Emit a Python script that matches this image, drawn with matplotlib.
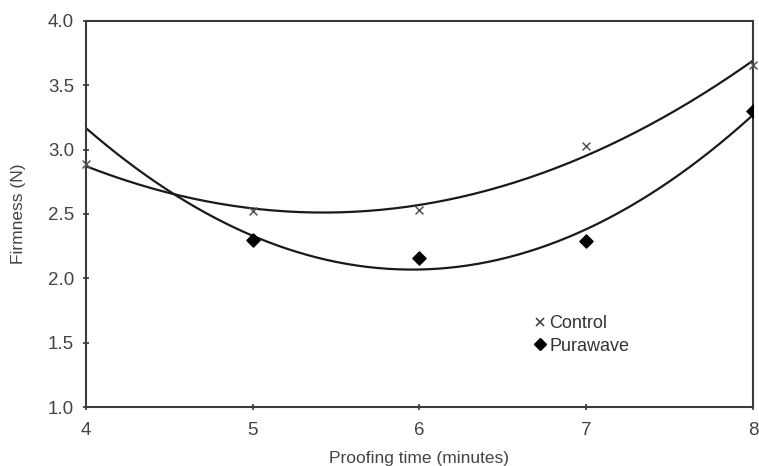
import matplotlib
matplotlib.use("Agg")
import numpy as np
from matplotlib import pyplot as plt
from matplotlib.lines import Line2D

# Firmness readings per proofing time
control_time = [4, 5, 6, 7, 8]
control_firmness = [2.89, 2.52, 2.53, 3.03, 3.66]
purawave_time = [5, 6, 7, 8]
purawave_firmness = [2.30, 2.16, 2.29, 3.30]

x_ticks = [4, 5, 6, 7, 8]
y_ticks = [1.0, 1.5, 2.0, 2.5, 3.0, 3.5, 4.0]

plt.rcParams["font.family"] = ["Liberation Sans", "DejaVu Sans"]

fig = plt.figure(figsize=(7.59, 4.66), dpi=100)
ax = fig.add_axes((0.1133, 0.1266, 0.8787, 0.8284))

# second-order trend lines over the full time range
xs = np.linspace(4, 8, 200)
for t, f in [(control_time, control_firmness), (purawave_time, purawave_firmness)]:
    coeffs = np.polyfit(t, f, 2)
    ax.plot(xs, np.polyval(coeffs, xs), color="#1a1a1a", lw=1.6, zorder=2)

ax.scatter(control_time, control_firmness, marker="x", s=32, color="#555555",
           linewidths=1.1, zorder=3, clip_on=False)
ax.scatter(purawave_time, purawave_firmness, marker="D", s=45, color="black",
           zorder=3, clip_on=True)

ax.set_xlim(4, 8)
ax.set_ylim(1.0, 4.0)
ax.set_xticks(x_ticks)
ax.set_yticks(y_ticks)
ax.set_yticklabels([f"{v:.1f}" for v in y_ticks])
ax.tick_params(direction="inout", length=5, width=1.2, labelsize=13.5,
               colors="#333333", labelcolor="#444444")
ax.tick_params(axis="x", pad=8)
ax.tick_params(axis="y", pad=6)

for s in ax.spines.values():
    s.set_linewidth(1.5)
    s.set_color("#3a3a3a")

ax.set_xlabel("Proofing time (minutes)", fontsize=12.5, color="#444444", labelpad=9)
ax.set_ylabel("Firmness (N)", fontsize=12.5, color="#444444", labelpad=16)

handles = [
    Line2D([], [], marker="x", ls="none", color="#444444", markersize=6, mew=1.2),
    Line2D([], [], marker="D", ls="none", color="black", markersize=6),
]
ax.legend(handles, ["Control", "Purawave"], frameon=False, fontsize=13,
          loc="upper left", bbox_to_anchor=(0.645, 0.28), handletextpad=0.15,
          handlelength=0.8, labelspacing=0.3, labelcolor="#333333")

fig.savefig("out.png", dpi=100)
